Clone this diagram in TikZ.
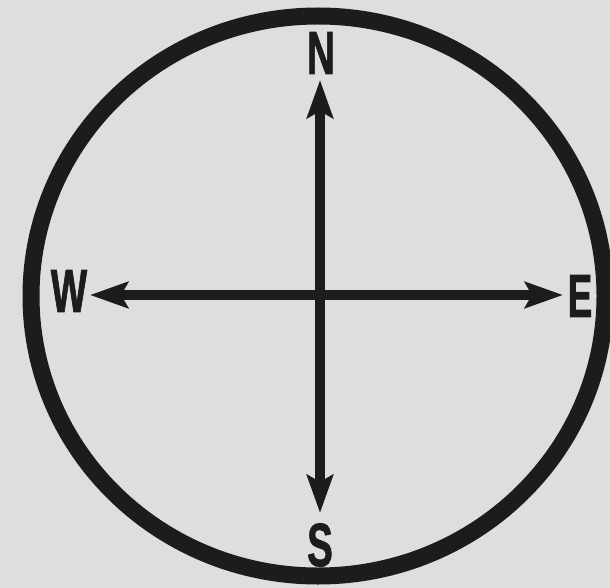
\documentclass[tikz,border=0pt]{standalone}
\usepackage{fontspec}
\setmainfont{Liberation Sans}
\newfontfamily\heavyfont[FakeBold=1.6]{Liberation Sans Bold}
\usetikzlibrary{arrows.meta}
\definecolor{paper}{RGB}{222,222,222}
\definecolor{ink}{RGB}{28,28,28}
\tikzset{
  compassletter/.style={inner sep=0pt, text=ink, font=\fontsize{61}{61}\selectfont\heavyfont},
  axisarrow/.style={draw=ink, line width=10pt, {Stealth[length=38pt,width=26pt,inset=7pt]}-{Stealth[length=38pt,width=26pt,inset=7pt]}},
  rim/.style={draw=ink, line width=17pt}
}
\begin{document}
\begin{tikzpicture}[x=1pt,y=-1pt]
\fill[paper] (0,0) rectangle (610,588);
\useasboundingbox (0,0) rectangle (610,588);
\begin{scope}
\clip (0,0) rectangle (610,588);
\draw[rim] (318,296) ellipse [x radius=287, y radius=280];
\end{scope}
\node[compassletter] (N) at (321,53) {\scalebox{0.63}[1]{N}};
\node[compassletter] (S) at (320,545) {\scalebox{0.63}[1]{S}};
\node[compassletter] (W) at (69,291) {\scalebox{0.63}[1]{W}};
\node[compassletter] (E) at (580,296) {\scalebox{0.6}[1]{E}};
\coordinate (ntip) at (320,80);
\coordinate (stip) at (320,513);
\coordinate (wtip) at (90,295);
\coordinate (etip) at (563,295);
\draw[axisarrow] (stip) -- (ntip);
\draw[axisarrow] (wtip) -- (etip);
\end{tikzpicture}
\end{document}
